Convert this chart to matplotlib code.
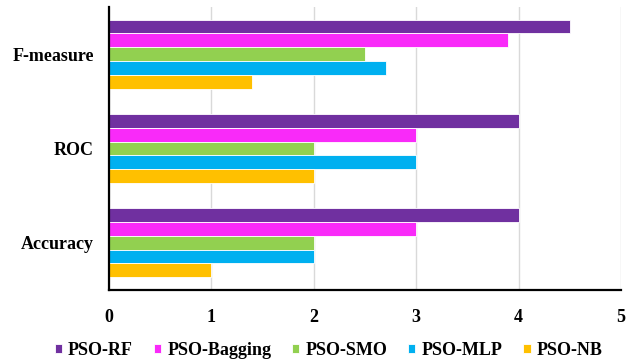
import numpy as np
import matplotlib.pyplot as plt

plt.rcParams['font.family'] = ['Liberation Serif', 'DejaVu Serif']
plt.rcParams['font.weight'] = 'bold'

categories = ['Accuracy', 'ROC', 'F-measure']
series = ['PSO-RF', 'PSO-Bagging', 'PSO-SMO', 'PSO-MLP', 'PSO-NB']
rf = [4, 4, 4.5]
bagging = [3, 3, 3.9]
smo = [2, 2, 2.5]
mlp = [2, 3, 2.7]
nb = [1, 2, 1.4]
colors = ['#7030A0', '#F92AF9', '#92D050', '#00B0F0', '#FFC000']

values = [rf, bagging, smo, mlp, nb]

fig = plt.figure(figsize=(6.39, 3.62), dpi=100)
ax = fig.add_axes([0.1706, 0.199, 0.8014, 0.782])

y = np.arange(len(categories))
h = 0.146
for i, (vals, name, c) in enumerate(zip(values, series, colors)):
    # first series sits on top of each group
    offs = (2 - i) * h
    ax.barh(y + offs, vals, height=h, color=c, edgecolor='white', linewidth=0.6, label=name, zorder=3)

ax.set_xlim(0, 5)
ax.set_ylim(-0.5, 2.5)
ax.set_yticks(y)
ax.set_yticklabels(categories, fontsize=13, fontweight='bold')
ax.set_xticks(range(6))
ax.set_xticklabels([str(v) for v in range(6)], fontsize=13, fontweight='bold')
ax.tick_params(axis='x', length=0, pad=14)
ax.tick_params(axis='y', length=0, pad=11)
ax.xaxis.grid(True, color='#d9d9d9', linewidth=1, zorder=0)
for s in ['top', 'right']:
    ax.spines[s].set_visible(False)
for s in ['left', 'bottom']:
    ax.spines[s].set_linewidth(1.6)
    ax.spines[s].set_zorder(5)

ax.legend(loc='center', bbox_to_anchor=(0.429, -0.215), ncol=5, frameon=False,
          handlelength=0.4, handleheight=0.4, handletextpad=0.35,
          columnspacing=1.15, borderpad=0, prop={'weight': 'bold', 'size': 13})

fig.savefig('out.png', dpi=100)
